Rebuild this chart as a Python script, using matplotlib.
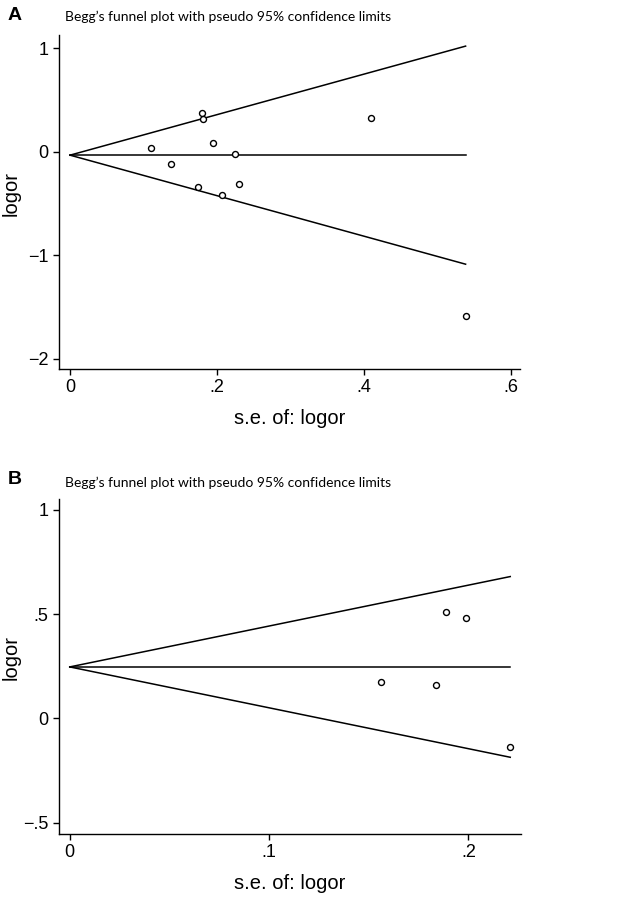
"""
Begg's funnel plots (panels A and B) with pseudo 95% confidence limits
"""

import matplotlib
matplotlib.use('Agg')
import matplotlib.pyplot as plt
import numpy as np

# Panel A data: standard error and log odds ratio of each study
se_a = [0.110, 0.138, 0.179, 0.181, 0.195, 0.224, 0.174, 0.207, 0.230, 0.410, 0.538]
logor_a = [0.039, -0.122, 0.376, 0.315, 0.081, -0.022, -0.344, -0.418, -0.308, 0.328, -1.588]
pooled_a = -0.032

# Panel B data
se_b = [0.156, 0.184, 0.189, 0.199, 0.221]
logor_b = [0.175, 0.162, 0.512, 0.482, -0.139]
pooled_b = 0.247

# Tick positions / labels (Stata style)
xticks_a = [0, 0.2, 0.4, 0.6]
xlabels_a = ['0', '.2', '.4', '.6']
yticks_a = [1, 0, -1, -2]
ylabels_a = ['1', '0', '\u22121', '\u22122']

xticks_b = [0, 0.1, 0.2]
xlabels_b = ['0', '.1', '.2']
yticks_b = [1, 0.5, 0, -0.5]
ylabels_b = ['1', '.5', '0', '\u2212.5']

TITLE = "Begg\u2019s funnel plot with pseudo 95% confidence limits"

W, H = 619, 900
fig = plt.figure(figsize=(W / 100, H / 100), dpi=100)


def px_axes(left, top, right, bottom):
    return fig.add_axes([left / W, 1 - bottom / H, (right - left) / W, (bottom - top) / H])


def draw_funnel(ax, se, logor, pooled, xlim, ylim, xt, xl, yt, yl):
    se = np.asarray(se)
    smax = se.max()
    s = np.array([0, smax])
    ax.plot(s, [pooled, pooled], color='black', lw=1.1)
    ax.plot(s, pooled + 1.96 * s, color='black', lw=1.1)
    ax.plot(s, pooled - 1.96 * s, color='black', lw=1.1)
    ax.plot(se, logor, 'o', mfc='white', mec='black', ms=4.3, mew=1.0)

    ax.set_xlim(*xlim)
    ax.set_ylim(*ylim)
    ax.set_xticks(xt)
    ax.set_xticklabels(xl)
    ax.set_yticks(yt)
    ax.set_yticklabels(yl)
    for side in ['top', 'right']:
        ax.spines[side].set_visible(False)
    for side in ['left', 'bottom']:
        ax.spines[side].set_linewidth(1.0)
    ax.tick_params(direction='out', length=4.5, width=1.0, labelsize=13, pad=3)
    ax.set_xlabel('s.e. of: logor', fontsize=14.5, labelpad=9)
    ax.set_ylabel('logor', fontsize=14.5)
    ax.yaxis.set_label_coords(-0.084, 0.526)


plt.rcParams['font.family'] = ['Liberation Sans', 'DejaVu Sans']
title_font = ['Lato', 'DejaVu Sans']

# Panel A
ax1 = px_axes(59, 35, 520, 369)
draw_funnel(ax1, se_a, logor_a, pooled_a, (-0.015, 0.612), (-2.10, 1.13),
            xticks_a, xlabels_a, yticks_a, ylabels_a)
fig.text(8 / W, 1 - 15 / H, 'A', fontsize=14, fontweight='bold', va='center', ha='left')
fig.text(65 / W, 1 - 17 / H, TITLE, fontsize=10, va='center', ha='left',
         family=title_font)

# Panel B
ax2 = px_axes(59, 499, 521, 834)
draw_funnel(ax2, se_b, logor_b, pooled_b, (-0.0054, 0.2264), (-0.554, 1.052),
            xticks_b, xlabels_b, yticks_b, ylabels_b)
fig.text(8 / W, 1 - 479 / H, 'B', fontsize=14, fontweight='bold', va='center', ha='left')
fig.text(65 / W, 1 - 483 / H, TITLE, fontsize=10, va='center', ha='left',
         family=title_font)

plt.savefig('out.png', dpi=100)
